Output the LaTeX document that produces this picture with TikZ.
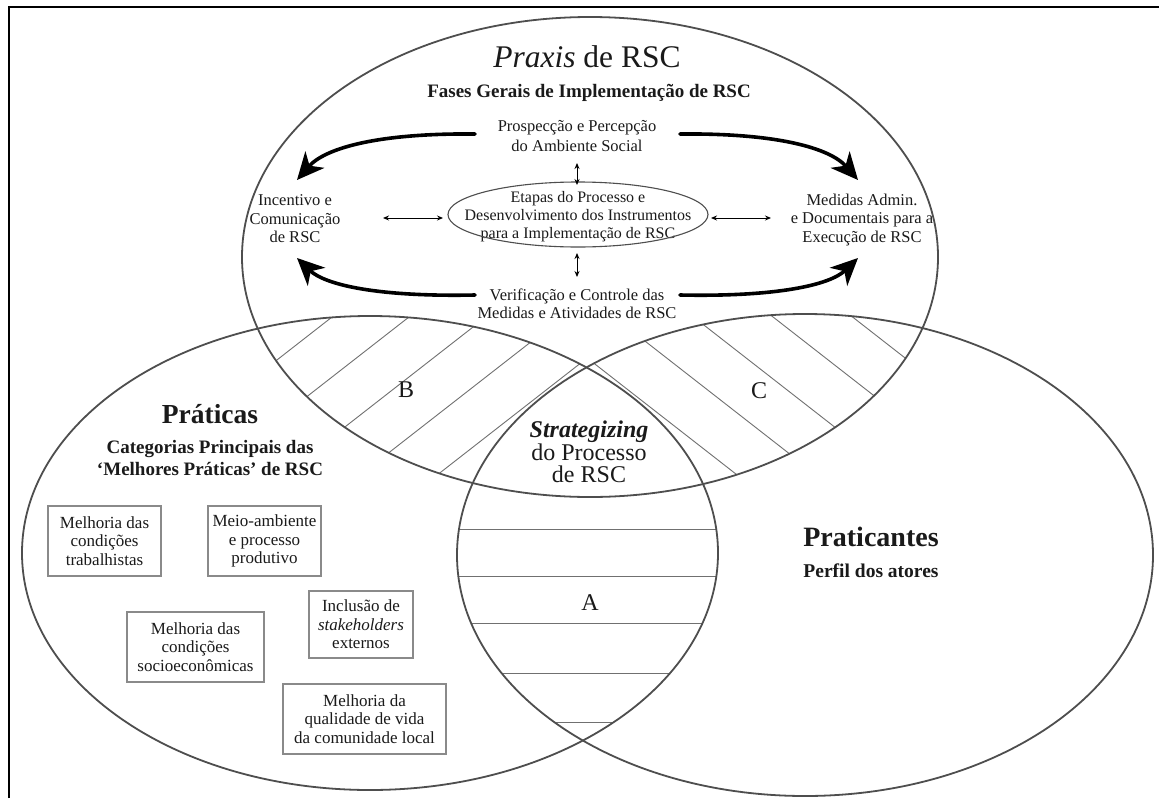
\documentclass[tikz,border=0pt]{standalone}
\usepackage{fontspec}
\setmainfont{Liberation Serif}
\usetikzlibrary{arrows.meta}
\definecolor{ellcol}{HTML}{4E4E4E}
\definecolor{hatchcol}{HTML}{707070}
\definecolor{boxcol}{HTML}{8A8A8A}
\definecolor{txtcol}{HTML}{1A1A1A}
\newcommand{\myfs}[2]{\fontsize{#1}{#2}\selectfont}
\tikzset{
  ell/.style={draw=ellcol, line width=1.8pt},
  hatch/.style={draw=hatchcol, line width=0.9pt},
  txt/.style={align=center, text=txtcol, inner sep=0pt},
  body/.style={txt, font=\myfs{16.5}{19}},
  boxnode/.style={draw=boxcol, line width=1.3pt, align=center, text=txtcol, inner sep=0pt, font=\myfs{17}{18.5}},
  bigarrow/.style={draw=black, line width=3.6pt, line cap=round, -{Stealth[length=27pt,width=25pt,inset=8pt]}},
  dbl/.style={draw=black, line width=0.9pt, {Stealth[length=6pt,width=5pt]}-{Stealth[length=6pt,width=5pt]}},
  lbl/.style={txt, font=\myfs{24}{26}}
}
\begin{document}
\begin{tikzpicture}[x=1pt,y=-1pt]
\useasboundingbox (0,0) rectangle (1159,798);
\fill[white] (0,0) rectangle (1159,798);
% frame
\draw[line width=1.8pt, black] (9,798) -- (9,7) -- (1159,7);

% ---- hatching B : top & left, not right
\begin{scope}[even odd rule]
  \clip (590,257) ellipse [x radius=348, y radius=240];
  \clip (370,553) ellipse [x radius=348, y radius=237];
  \clip (-10,-10) rectangle (1170,810) (805,555) ellipse [x radius=348, y radius=241];
  \foreach \c in {576,636,696,756,816}
    \draw[hatch] (200,{\c-156}) -- (700,{\c-546});
\end{scope}
% ---- hatching C : top & right, not left
\begin{scope}[even odd rule]
  \clip (590,257) ellipse [x radius=348, y radius=240];
  \clip (805,555) ellipse [x radius=348, y radius=241];
  \clip (-10,-10) rectangle (1170,810) (370,553) ellipse [x radius=348, y radius=237];
  \foreach \c in {-348,-286,-224,-162,-100}
    \draw[hatch] (500,{\c+390}) -- (1000,{\c+780});
\end{scope}
% ---- hatching A : left & right, not top
\begin{scope}[even odd rule]
  \clip (370,553) ellipse [x radius=348, y radius=237];
  \clip (805,555) ellipse [x radius=348, y radius=241];
  \clip (-10,-10) rectangle (1170,810) (590,257) ellipse [x radius=348, y radius=240];
  \foreach \yy in {529,576,623,673,722}
    \draw[hatch] (400,\yy) -- (800,\yy);
\end{scope}

% ---- the three ellipses
\draw[ell] (590,257) ellipse [x radius=348, y radius=240];
\draw[ell] (370,553) ellipse [x radius=348, y radius=237];
\draw[ell] (805,555) ellipse [x radius=348, y radius=241];

% ---- Praxis
\node[txt, font=\myfs{31.5}{36}] (title) at (587,57) {\textit{Praxis} de RSC};
\node[txt, font=\myfs{19}{22}\bfseries] (fases) at (589,93) {Fases Gerais de Implementação de RSC};
\node[body, font=\myfs{16.5}{20}] (prosp) at (577,136) {Prospecção e Percepção\\do Ambiente Social};
\node[body, font=\myfs{16}{18}] (inner) at (578,217) {Etapas do Processo e\\Desenvolvimento dos Instrumentos\\para a Implementação de RSC};
\draw[draw=ellcol, line width=1.1pt] (578,214.5) ellipse [x radius=130, y radius=32.5];
\node[body, font=\myfs{16.5}{18.5}] (incent) at (295,219) {Incentivo e\\Comunicação\\de RSC};
\node[body, font=\myfs{16.5}{18.5}] (medidas) at (862,220) {Medidas Admin.\\e Documentais para a\\Execução de RSC};
\node[body, font=\myfs{16.5}{18.5}] (verif) at (577,304) {Verificação e Controle das\\Medidas e Atividades de RSC};

% small double arrows
\coordinate (u1) at (577,163); \coordinate (u2) at (577,185);
\coordinate (d1) at (577,253); \coordinate (d2) at (577,277);
\coordinate (l1) at (383,218); \coordinate (l2) at (443,218);
\coordinate (r1) at (711,218); \coordinate (r2) at (771,218);
\draw[dbl] (u1) -- (u2);
\draw[dbl] (d1) -- (d2);
\draw[dbl] (l1) -- (l2);
\draw[dbl] (r1) -- (r2);

% big curved arrows
\coordinate (tls) at (475,134); \coordinate (tle) at (297,180);
\coordinate (trs) at (680,134); \coordinate (tre) at (858,180);
\coordinate (bls) at (475,295); \coordinate (ble) at (297,258);
\coordinate (brs) at (680,295); \coordinate (bre) at (858,258);
\draw[bigarrow] (tls) .. controls (378,133) and (325,148) .. (tle);
\draw[bigarrow] (trs) .. controls (777,133) and (830,148) .. (tre);
\draw[bigarrow] (bls) .. controls (378,297) and (325,285) .. (ble);
\draw[bigarrow] (brs) .. controls (777,297) and (830,285) .. (bre);

% ---- region labels
\node[lbl] (lB) at (406,390) {B};
\node[lbl] (lC) at (759,391) {C};
\node[lbl] (lA) at (590,603) {A};
\node[txt, font=\myfs{24}{22.5}] (strat) at (589,452) {\textbf{\textit{Strategizing}}\\do Processo\\de RSC};

% ---- Praticas
\node[txt, font=\myfs{27.5}{30}\bfseries] (prat) at (210,414) {Práticas};
\node[txt, font=\myfs{19}{22}\bfseries] (cat) at (210,458) {Categorias Principais das\\‘Melhores Práticas’ de RSC};
\node[boxnode, minimum width=113pt, minimum height=70pt] (b1) at (104.5,541) {Melhoria das\\condições\\trabalhistas};
\node[boxnode, minimum width=113pt, minimum height=70pt] (b2) at (264.5,541) {Meio-ambiente\\e processo\\produtivo};
\node[boxnode, minimum width=104pt, minimum height=67pt] (b3) at (361,624.5) {Inclusão de\\\textit{stakeholders}\\externos};
\node[boxnode, minimum width=137pt, minimum height=70pt] (b4) at (195.5,647) {Melhoria das\\condições\\socioeconômicas};
\node[boxnode, minimum width=163pt, minimum height=70pt] (b5) at (364.5,719) {Melhoria da\\qualidade de vida\\da comunidade local};

% ---- Praticantes
\node[txt, font=\myfs{28}{30}\bfseries] (pratc) at (871,537) {Praticantes};
\node[txt, font=\myfs{19.5}{22}\bfseries] (perfil) at (871,571) {Perfil dos atores};
\end{tikzpicture}
\end{document}
